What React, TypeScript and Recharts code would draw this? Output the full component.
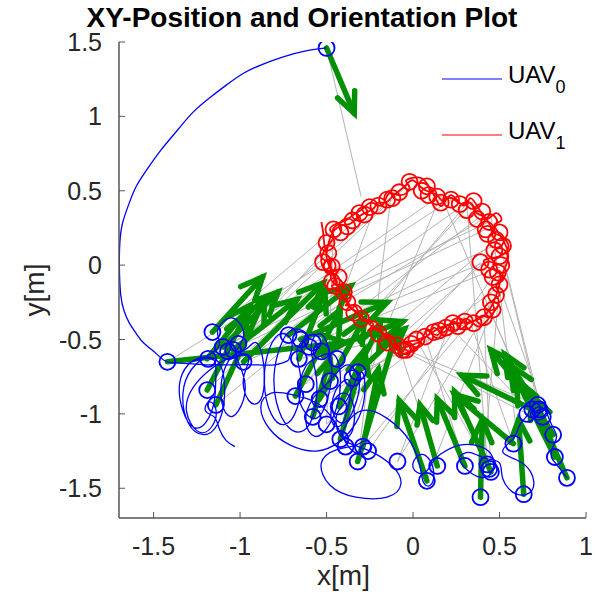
import { ComposedChart, Line, Scatter, XAxis, YAxis, ReferenceLine, Legend } from 'recharts';

type P = [number, number];

const FONT = '"Liberation Sans", Arial, sans-serif';
const BLUE = '#0000ff';
const RED = '#ff0000';
const GREEN = '#009000';
const GRAY = '#b4b4b4';
const AXIS = '#555555';

const xTicks = [-1.5, -1, -0.5, 0, 0.5, 1];
const yTicks = [-1.5, -1, -0.5, 0, 0.5, 1, 1.5];

// UAV0 path: the big arc in, then the loops in the middle and lower right
const blueArc: P[] = [
  [-0.5, 1.46], [-0.62, 1.44], [-0.75, 1.4], [-0.87, 1.35], [-0.98, 1.29], [-1.08, 1.21], [-1.17, 1.13],
  [-1.27, 1.03], [-1.36, 0.91], [-1.46, 0.77], [-1.54, 0.64], [-1.6, 0.53], [-1.64, 0.42], [-1.68, 0.28],
  [-1.695, 0.15], [-1.698, 0.0], [-1.69, -0.2], [-1.67, -0.31], [-1.64, -0.39], [-1.6, -0.46], [-1.56, -0.52],
  [-1.48, -0.6], [-1.42, -0.65], [-1.32, -0.66], [-1.2, -0.67], [-1.05, -0.67], [-0.92, -0.67], [-0.8, -0.67],
  [-0.72, -0.64],
];

const blueMid: P[] = [
  [-0.72, -0.64], [-0.7, -0.52], [-0.76, -0.46], [-0.83, -0.56], [-0.86, -0.78], [-0.82, -1.0], [-0.74, -1.07],
  [-0.67, -0.96], [-0.65, -0.75], [-0.67, -0.57], [-0.62, -0.47], [-0.68, -0.43], [-0.75, -0.5], [-0.8, -0.7],
  [-0.79, -0.92], [-0.72, -1.09], [-0.63, -1.11], [-0.57, -0.98], [-0.56, -0.75], [-0.59, -0.55], [-0.54, -0.46],
  [-0.49, -0.55], [-0.47, -0.72], [-0.5, -0.92], [-0.56, -1.03], [-0.63, -0.98], [-0.66, -0.85], [-0.62, -0.68],
  [-0.55, -0.62], [-0.46, -0.6], [-0.42, -0.75], [-0.44, -0.95], [-0.5, -1.1], [-0.57, -1.15], [-0.62, -1.05],
  [-0.58, -0.9], [-0.5, -0.8], [-0.4, -0.68], [-0.34, -0.7], [-0.31, -0.8], [-0.34, -0.96], [-0.4, -1.06],
  [-0.46, -1.0], [-0.45, -0.85], [-0.38, -0.77], [-0.36, -0.85], [-0.38, -0.98], [-0.42, -1.08], [-0.47, -1.05],
  [-0.46, -0.92], [-0.4, -0.86], [-0.35, -0.92], [-0.34, -1.05], [-0.37, -1.15], [-0.43, -1.13], [-0.44, -1.0],
  [-0.38, -0.9], [-0.3, -0.72], [-0.28, -0.88], [-0.33, -1.06], [-0.43, -1.19],
  [-0.56, -1.25], [-0.71, -1.21], [-0.83, -1.1], [-0.88, -0.95], [-0.82, -0.86], [-0.7, -0.87], [-0.55, -0.93],
  [-0.45, -1.06], [-0.4, -1.17], [-0.35, -1.25], [-0.29, -1.27], [-0.24, -1.23], [-0.27, -1.18], [-0.33, -1.21],
  [-0.44, -1.24], [-0.53, -1.33], [-0.48, -1.48], [-0.33, -1.56], [-0.15, -1.56], [-0.07, -1.47], [-0.12, -1.35],
  [-0.25, -1.25], [-0.38, -1.19], [-0.4, -1.1], [-0.3, -0.98], [-0.15, -1.03], [-0.02, -1.18], [0.04, -1.35],
  [0.06, -1.46], [0.1, -1.48], [0.12, -1.4], [0.09, -1.3], [0.03, -1.28], [0.0, -1.36], [0.06, -1.4],
  [0.11, -1.33], [0.16, -1.27], [0.27, -1.21], [0.39, -1.22], [0.46, -1.29], [0.45, -1.4], [0.37, -1.42],
  [0.29, -1.35], [0.27, -1.29], [0.33, -1.26], [0.42, -1.3], [0.5, -1.33], [0.52, -1.44], [0.6, -1.54],
  [0.69, -1.51], [0.68, -1.39], [0.6, -1.31], [0.52, -1.26], [0.55, -1.2], [0.59, -1.15], [0.62, -1.07],
  [0.66, -1.01], [0.69, -0.95], [0.75, -0.93], [0.78, -0.99], [0.73, -1.04], [0.68, -1.01], [0.71, -0.96],
  [0.76, -0.97], [0.8, -1.07], [0.83, -1.15], [0.81, -1.22], [0.8, -1.29], [0.83, -1.34], [0.87, -1.4],
  [0.89, -1.43],
];

const blueLeft: P[] = [
  [-1.3, -0.66], [-1.22, -0.63], [-1.15, -0.64], [-1.14, -0.74], [-1.15, -0.92], [-1.2, -1.06], [-1.27, -1.09],
  [-1.33, -0.98], [-1.35, -0.8], [-1.3, -0.67], [-1.22, -0.62], [-1.12, -0.66], [-1.09, -0.88], [-1.13, -1.07],
  [-1.21, -1.14], [-1.3, -1.06], [-1.33, -0.86], [-1.28, -0.7], [-1.19, -0.61], [-1.12, -0.54], [-1.13, -0.44],
  [-1.07, -0.36], [-1.01, -0.38], [-0.98, -0.48], [-1.02, -0.58], [-1.0, -0.68], [-0.97, -0.83], [-1.01, -0.98],
  [-1.07, -1.01], [-1.11, -0.88], [-1.09, -0.7], [-1.03, -0.6], [-0.96, -0.56], [-0.91, -0.52], [-0.87, -0.62],
  [-0.86, -0.8], [-0.89, -0.92], [-0.95, -0.91], [-0.98, -0.76], [-0.95, -0.62], [-1.05, -0.62], [-1.17, -0.7],
  [-1.27, -0.82], [-1.31, -0.98], [-1.24, -1.12], [-1.16, -1.08], [-1.14, -0.97], [-1.18, -0.92], [-1.2, -0.98],
  [-1.15, -1.02], [-1.12, -1.1], [-1.08, -1.18], [-1.03, -1.22],
];

// UAV1 path around the ring (several laps with small loops)
const redPath: P[] = [
  [-0.53, 0.29], [-0.52, 0.22], [-0.51, 0.12], [-0.5, 0.04], [-0.52, -0.01], [-0.47, -0.04], [-0.45, 0.01],
  [-0.48, 0.04], [-0.46, -0.06], [-0.44, -0.12], [-0.47, -0.14], [-0.44, -0.17], [-0.4, -0.22], [-0.37, -0.28],
  [-0.33, -0.31], [-0.28, -0.36], [-0.23, -0.4], [-0.26, -0.44], [-0.2, -0.43], [-0.16, -0.48], [-0.12, -0.53],
  [-0.08, -0.57], [-0.04, -0.6], [-0.01, -0.56], [-0.05, -0.52], [0.0, -0.51], [0.05, -0.49], [0.09, -0.47],
  [0.12, -0.42], [0.16, -0.45], [0.2, -0.43], [0.24, -0.38], [0.27, -0.43], [0.31, -0.4], [0.36, -0.37],
  [0.4, -0.34], [0.44, -0.35], [0.47, -0.3], [0.46, -0.24], [0.5, -0.2], [0.48, -0.14], [0.52, -0.1],
  [0.5, -0.04], [0.44, -0.02], [0.41, 0.03], [0.47, 0.05], [0.53, 0.08], [0.55, 0.14], [0.5, 0.2],
  [0.46, 0.22], [0.44, 0.28], [0.4, 0.33], [0.36, 0.36], [0.33, 0.42], [0.28, 0.41], [0.24, 0.44],
  [0.2, 0.45], [0.17, 0.43], [0.14, 0.47], [0.1, 0.49], [0.05, 0.52], [0.0, 0.57], [-0.04, 0.54],
  [-0.08, 0.5], [-0.12, 0.46], [-0.16, 0.42], [-0.2, 0.42], [-0.23, 0.38], [-0.28, 0.35], [-0.32, 0.32],
  [-0.36, 0.28], [-0.4, 0.27], [-0.44, 0.25], [-0.47, 0.21], [-0.49, 0.14], [-0.5, 0.06], [-0.48, -0.02],
  [-0.45, -0.1], [-0.42, -0.18], [-0.38, -0.24], [-0.35, -0.3], [-0.3, -0.34], [-0.25, -0.4], [-0.19, -0.45],
  [-0.14, -0.5], [-0.1, -0.56], [-0.04, -0.55], [0.03, -0.52], [0.1, -0.46], [0.18, -0.41], [0.26, -0.39],
  [0.34, -0.38], [0.42, -0.33], [0.46, -0.26], [0.49, -0.17], [0.52, -0.05], [0.55, 0.05], [0.52, 0.17],
  [0.47, 0.27], [0.51, 0.3], [0.48, 0.35], [0.43, 0.31], [0.38, 0.38], [0.33, 0.45], [0.29, 0.4],
  [0.22, 0.47], [0.17, 0.4], [0.13, 0.45], [0.08, 0.55], [0.03, 0.59], [-0.04, 0.57], [-0.02, 0.52],
  [-0.07, 0.47], [-0.14, 0.48], [-0.18, 0.4], [-0.24, 0.42], [-0.29, 0.38], [-0.33, 0.35], [-0.39, 0.3],
  [-0.44, 0.28], [-0.48, 0.24], [-0.46, 0.19], [-0.51, 0.1], [-0.53, 0.02], [-0.49, -0.05], [-0.44, -0.04],
  [-0.46, -0.12], [-0.41, -0.14], [-0.36, -0.22], [-0.39, -0.27], [-0.33, -0.28], [-0.3, -0.37], [-0.22, -0.38],
  [-0.17, -0.46], [-0.11, -0.5], [-0.07, -0.59], [-0.02, -0.58], [0.04, -0.53], [0.08, -0.44], [0.14, -0.47],
  [0.2, -0.4], [0.25, -0.44], [0.3, -0.36], [0.37, -0.41], [0.43, -0.37], [0.49, -0.28],
];

const blueMarkers: P[] = [
  [-0.5, 1.46], [-1.42, -0.65],
  [-1.16, -0.45], [-1.185, -0.63], [-1.1, -0.55], [-1.04, -0.57], [-0.98, -0.65], [-1.19, -0.84], [-1.14, -0.94],
  [-1.01, -0.53], [-1.07, -0.58],
  [-0.72, -0.47], [-0.65, -0.5], [-0.58, -0.52], [-0.53, -0.58], [-0.66, -0.63], [-0.44, -0.63], [-0.6, -0.55],
  [-0.68, -0.88], [-0.54, -0.9], [-0.43, -0.95], [-0.32, -0.72], [-0.35, -0.76], [-0.58, -1.02], [-0.5, -1.07],
  [-0.42, -1.17], [-0.39, -1.22], [-0.29, -1.22], [-0.26, -1.25], [-0.32, -1.32], [-0.09, -1.32], [-0.48, -0.78],
  [-0.62, -0.8],
  [0.08, -1.45], [0.14, -1.35], [0.3, -1.35], [0.43, -1.34], [0.45, -1.39], [0.39, -1.56], [0.64, -1.54],
  [0.58, -1.2], [0.69, -0.97], [0.73, -0.97], [0.75, -1.02], [0.66, -1.0], [0.81, -1.14], [0.82, -1.29],
  [0.89, -1.43], [0.72, -0.94], [0.44, -1.37],
];

const redMarkers: P[] = [
  [-0.02, 0.56], [0.14, 0.46], [0.16, 0.42], [0.31, 0.37], [0.35, 0.43], [0.37, 0.31], [0.42, 0.24],
  [0.48, 0.17], [0.52, 0.13], [0.5, 0.06], [0.39, 0.02], [0.46, -0.08], [0.5, -0.13], [0.48, -0.2],
  [0.46, -0.3], [0.41, -0.35], [0.35, -0.39], [0.23, -0.39], [0.19, -0.42], [0.12, -0.45], [0.02, -0.5],
  [-0.04, -0.57], [-0.09, -0.54], [-0.15, -0.52], [-0.06, -0.57], [-0.38, -0.25], [-0.43, -0.08], [-0.47, -0.11],
  [-0.47, -0.01], [-0.52, 0.02], [-0.46, 0.24], [-0.38, 0.26], [-0.31, 0.35], [-0.25, 0.39], [-0.15, 0.44],
  [-0.08, 0.49], [-0.42, 0.22], [-0.2, 0.4], [0.05, 0.5], [0.44, -0.03], [0.26, -0.41], [-0.4, -0.18],
  [0.47, 0.1], [0.44, 0.29], [0.4, 0.36], [0.27, 0.41], [0.22, 0.44], [0.09, 0.47], [-0.12, 0.45],
  [-0.28, 0.34], [-0.35, 0.3], [0.51, 0.0], [0.49, -0.05], [0.45, -0.25], [0.3, -0.38], [0.15, -0.44],
  [0.07, -0.48], [-0.01, -0.53], [-0.2, -0.46], [-0.3, -0.36], [-0.34, -0.32], [-0.45, -0.14], [-0.49, 0.08],
  [-0.5, 0.15], [0.08, 0.53], [0.43, 0.21], [0.5, 0.22],
];

// gray links UAV0 -> UAV1
const grayFrom: P[] = [
  [-0.5, 1.46], [-1.42, -0.65], [-1.16, -0.45], [-1.185, -0.63], [-1.1, -0.55], [-1.04, -0.57], [-0.98, -0.65],
  [-1.19, -0.84], [-1.14, -0.94], [-1.01, -0.53],
  [-0.72, -0.47], [-0.65, -0.5], [-0.58, -0.52], [-0.53, -0.58], [-0.66, -0.63], [-0.44, -0.63], [-0.68, -0.88],
  [-0.54, -0.9], [-0.43, -0.95], [-0.32, -0.72],
  [-0.58, -1.02], [-0.5, -1.07], [-0.42, -1.17], [-0.39, -1.22], [-0.29, -1.22], [-0.32, -1.32], [-0.09, -1.32],
  [0.08, -1.45], [0.14, -1.35], [0.3, -1.35], [0.43, -1.34], [0.39, -1.56], [0.64, -1.54], [0.58, -1.2],
  [0.69, -0.97], [0.73, -0.97], [0.75, -1.02], [0.81, -1.14], [0.82, -1.29], [0.89, -1.43],
  [-1.07, -0.58], [-0.6, -0.55], [-0.48, -0.78], [-0.62, -0.8], [-0.35, -0.76], [-0.26, -1.25], [-1.185, -0.63],
  [-1.1, -0.55], [0.66, -1.0], [0.72, -0.94], [0.44, -1.37], [0.45, -1.39], [-0.09, -1.32], [-0.5, -1.07],
  [-0.98, -0.65],
];
const grayTo: P[] = [
  [-0.3, 0.46], [-0.5, 0.02], [-0.46, 0.24], [-0.13, 0.44], [0.16, 0.47], [-0.32, 0.33], [0.31, 0.42],
  [-0.48, -0.06], [-0.39, -0.23], [-0.02, 0.55],
  [0.45, 0.34], [0.5, 0.15], [0.53, 0.0], [-0.22, 0.39], [0.21, -0.41], [0.33, 0.44], [-0.31, -0.35],
  [0.07, -0.48], [0.5, -0.14], [0.45, -0.32],
  [-0.08, -0.55], [-0.46, 0.24], [0.16, 0.47], [-0.19, -0.53], [0.33, -0.38], [-0.13, 0.44], [0.21, -0.41],
  [0.45, -0.32], [-0.08, -0.55], [0.07, -0.48], [0.31, 0.42], [0.5, -0.14], [0.45, 0.34], [0.33, -0.38],
  [0.16, 0.47], [0.53, 0.0], [0.5, 0.15], [0.21, -0.41], [0.45, -0.32], [0.5, -0.14],
  [0.42, 0.24], [0.37, 0.31], [0.48, 0.17], [0.35, 0.43], [0.52, 0.13], [0.46, -0.08], [0.22, 0.44],
  [0.44, 0.29], [-0.15, -0.52], [-0.04, -0.57], [0.02, -0.5], [0.41, -0.35], [0.48, -0.2], [0.39, 0.02],
  [0.5, 0.06],
];

// orientation arrows: tail -> tip
const arrowTail: P[] = [
  [-0.5, 1.46], [-1.42, -0.65],
  [-1.16, -0.45], [-1.19, -0.63], [-1.1, -0.55], [-1.04, -0.57], [-1.14, -0.94], [-1.19, -0.84], [-0.98, -0.65],
  [-0.72, -0.47], [-0.65, -0.5], [-0.66, -0.63], [-0.53, -0.58], [-0.68, -0.88], [-0.54, -0.9], [-0.43, -0.95],
  [-0.32, -0.72], [-0.42, -1.17], [-0.29, -1.22], [-0.32, -1.32], [-0.58, -1.02],
  [0.08, -1.45], [0.14, -1.35], [0.39, -1.56], [0.3, -1.35], [0.45, -1.39], [0.64, -1.54], [0.58, -1.2],
  [0.69, -0.97], [0.73, -0.97], [0.75, -1.02], [0.82, -1.29], [0.89, -1.43], [0.81, -1.14],
];
const arrowTip: P[] = [
  [-0.34, 1.02], [-0.39, -0.52],
  [-0.87, -0.08], [-0.94, -0.27], [-0.78, -0.18], [-0.67, -0.23], [-0.86, -0.23], [-0.96, -0.32], [-0.52, -0.12],
  [-0.36, -0.14], [-0.15, -0.25], [-0.51, -0.17], [-0.06, -0.38], [-0.42, -0.3], [-0.28, -0.36], [-0.19, -0.4],
  [-0.05, -0.43], [-0.28, -0.57], [-0.2, -0.7], [-0.09, -0.43], [-0.48, -0.63],
  [-0.08, -0.91], [0.04, -0.94], [0.4, -1.04], [0.14, -0.9], [0.24, -0.85], [0.61, -1.04], [0.24, -0.87],
  [0.28, -0.74], [0.45, -0.57], [0.53, -0.6], [0.6, -0.77], [0.68, -0.87], [0.56, -0.67],
];

const toRows = (pts: P[]) => pts.map(([x, y]) => ({ x, y }));

const ArrowShape = (props: any) => {
  const { x1, y1, x2, y2 } = props;
  const a = Math.atan2(y2 - y1, x2 - x1);
  const len = Math.hypot(x2 - x1, y2 - y1);
  const head = Math.min(26, len * 0.32);
  const s = 0.42;
  const hx1 = x2 - head * Math.cos(a - s);
  const hy1 = y2 - head * Math.sin(a - s);
  const hx2 = x2 - head * Math.cos(a + s);
  const hy2 = y2 - head * Math.sin(a + s);
  return (
    <g>
      <line x1={x1} y1={y1} x2={x2} y2={y2} stroke={GREEN} strokeWidth={5.5} strokeLinecap="round" />
      <polyline
        points={`${hx1},${hy1} ${x2},${y2} ${hx2},${hy2}`}
        fill="none"
        stroke={GREEN}
        strokeWidth={5.5}
        strokeLinecap="round"
        strokeLinejoin="miter"
      />
    </g>
  );
};

const GrayShape = (props: any) => (
  <line x1={props.x1} y1={props.y1} x2={props.x2} y2={props.y2} stroke={GRAY} strokeWidth={1} />
);

const XTick = (props: any) => {
  const { x, y, payload } = props;
  return (
    <g>
      <line x1={x} y1={y} x2={x} y2={y - 6} stroke={AXIS} strokeWidth={1} />
      <text x={x} y={y + 37} textAnchor="middle" fontSize={25} fontFamily={FONT} fill="#262626">
        {payload.value}
      </text>
    </g>
  );
};

const YTick = (props: any) => {
  const { x, y, payload } = props;
  return (
    <g>
      <line x1={x} y1={y} x2={x + 6} y2={y} stroke={AXIS} strokeWidth={1} />
      <text x={x - 17} y={y + 9} textAnchor="end" fontSize={25} fontFamily={FONT} fill="#262626">
        {payload.value}
      </text>
    </g>
  );
};

const XLabel = (props: any) => {
  const vb = props.viewBox;
  return (
    <text x={vb.x + vb.width / 2 - 9} y={vb.y + 67} textAnchor="middle" fontSize={28} fontFamily={FONT} fill="#262626">
      x[m]
    </text>
  );
};

const YLabel = (props: any) => {
  const vb = props.viewBox;
  const cy = vb.y + vb.height / 2 + 10;
  return (
    <text
      x={44}
      y={cy}
      transform={`rotate(-90 44 ${cy})`}
      textAnchor="middle"
      fontSize={28}
      fontFamily={FONT}
      fill="#262626"
    >
      y[m]
    </text>
  );
};

const LegendBox = () => (
  <svg width={155} height={110} style={{ display: 'block' }}>
    <line x1={2} y1={29} x2={62} y2={29} stroke={BLUE} strokeWidth={1} />
    <text x={68} y={33} fontSize={24} fontFamily={FONT} fill="#000">
      UAV<tspan dy={10} fontSize={18}>0</tspan>
    </text>
    <line x1={2} y1={85} x2={62} y2={85} stroke={RED} strokeWidth={1} />
    <text x={68} y={89} fontSize={24} fontFamily={FONT} fill="#000">
      UAV<tspan dy={10} fontSize={18}>1</tspan>
    </text>
  </svg>
);

const BlueCircle = (p: any) => <circle cx={p.cx} cy={p.cy} r={8} fill="none" stroke={BLUE} strokeWidth={1.8} />;
const RedCircle = (p: any) => <circle cx={p.cx} cy={p.cy} r={8} fill="none" stroke={RED} strokeWidth={1.8} />;

export default function App() {
  return (
    <div style={{ position: 'absolute', left: 0, top: 0, width: 595, height: 602, background: '#fff' }}>
      <div
        style={{
          position: 'absolute',
          left: 0,
          top: 4,
          width: 604,
          textAlign: 'center',
          fontFamily: FONT,
          fontWeight: 'bold',
          fontSize: 28,
          lineHeight: '28px',
          color: '#000',
          zIndex: 2,
        }}
      >
        XY-Position and Orientation Plot
      </div>
      <ComposedChart width={595} height={602} margin={{ top: 42, right: 9, bottom: 0, left: 0 }}>
        <XAxis
          type="number"
          dataKey="x"
          domain={[-1.7, 1]}
          allowDataOverflow
          ticks={xTicks}
          interval={0}
          height={84}
          tickSize={0}
          tickMargin={0}
          tickLine={false}
          axisLine={{ stroke: AXIS, strokeWidth: 1.5 }}
          tick={<XTick />}
          label={{ value: 'x[m]', content: XLabel }}
        />
        <YAxis
          type="number"
          dataKey="y"
          domain={[-1.7, 1.5]}
          allowDataOverflow
          ticks={yTicks}
          interval={0}
          width={119}
          tickSize={0}
          tickMargin={0}
          tickLine={false}
          axisLine={{ stroke: AXIS, strokeWidth: 1.5 }}
          tick={<YTick />}
          label={{ value: 'y[m]', content: YLabel }}
        />
        {grayFrom.map((f, i) => (
          <ReferenceLine
            key={`g${i}`}
            segment={[{ x: f[0], y: f[1] }, { x: grayTo[i][0], y: grayTo[i][1] }]}
            ifOverflow="visible"
            shape={GrayShape}
          />
        ))}
        {arrowTail.map((t, i) => (
          <ReferenceLine
            key={`a${i}`}
            segment={[{ x: t[0], y: t[1] }, { x: arrowTip[i][0], y: arrowTip[i][1] }]}
            ifOverflow="visible"
            shape={ArrowShape}
          />
        ))}
        <Line data={toRows(blueArc)} dataKey="y" type="natural" stroke={BLUE} strokeWidth={1.3} dot={false}
          activeDot={false} isAnimationActive={false} legendType="none" />
        <Line data={toRows(blueLeft)} dataKey="y" type="natural" stroke={BLUE} strokeWidth={1.3} dot={false}
          activeDot={false} isAnimationActive={false} legendType="none" />
        <Line data={toRows(blueMid)} dataKey="y" type="natural" stroke={BLUE} strokeWidth={1.3} dot={false}
          activeDot={false} isAnimationActive={false} legendType="none" />
        <Scatter data={toRows(blueMarkers)} dataKey="y" shape={BlueCircle} isAnimationActive={false} legendType="none" />
        <Line data={toRows(redPath)} dataKey="y" type="natural" stroke={RED} strokeWidth={1.8} dot={false}
          activeDot={false} isAnimationActive={false} legendType="none" />
        <Scatter data={toRows(redMarkers)} dataKey="y" shape={RedCircle} isAnimationActive={false} legendType="none" />
        <Legend
          layout="vertical"
          verticalAlign="middle"
          align="center"
          wrapperStyle={{ left: 440, top: 50, width: 155, height: 110 }}
          content={LegendBox}
        />
      </ComposedChart>
    </div>
  );
}
